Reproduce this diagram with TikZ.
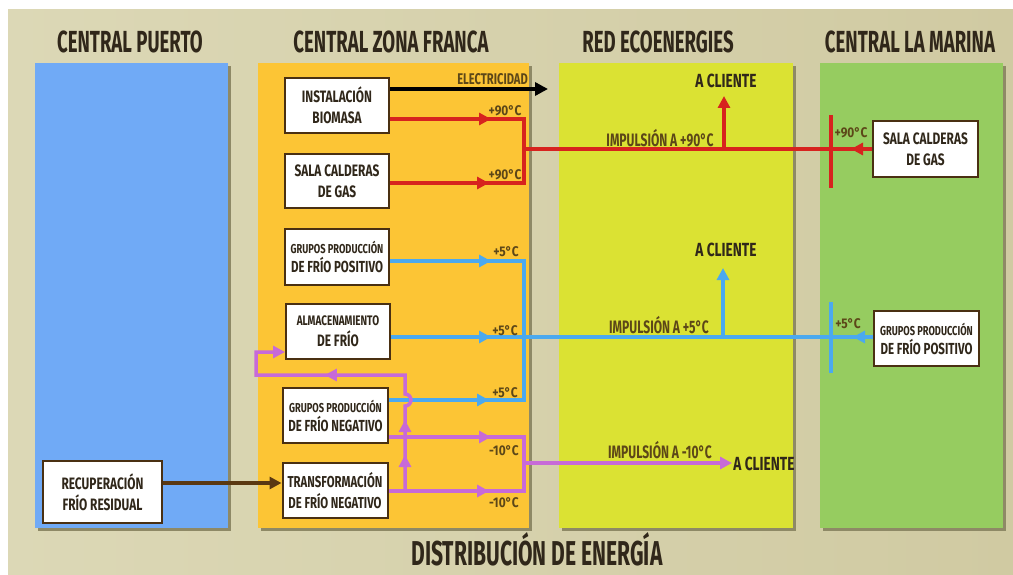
\documentclass[tikz,border=0pt]{standalone}
\usepackage{fontspec}
\usetikzlibrary{arrows.meta,decorations.markings}
\newfontfamily\tfont[FakeStretch=0.61]{Fira Sans}
\newfontfamily\ifont[FakeStretch=0.67]{Fira Sans}
\newfontfamily\bfont[FakeStretch=0.72]{Fira Sans}
\newfontfamily\lfont[FakeStretch=0.85]{Fira Sans}
\definecolor{bgl}{HTML}{DCD8B6}
\definecolor{bgr}{HTML}{D0CAA2}
\definecolor{pblue}{HTML}{70AAF6}
\definecolor{porange}{HTML}{FCC535}
\definecolor{pyellow}{HTML}{DBE233}
\definecolor{pgreen}{HTML}{96CC60}
\definecolor{cred}{HTML}{D7231E}
\definecolor{cblue}{HTML}{4BA9EF}
\definecolor{cpurple}{HTML}{C76AD8}
\definecolor{cbrown}{HTML}{5A3812}
\definecolor{tdark}{HTML}{30271A}
\definecolor{tlab}{HTML}{5C4718}
\definecolor{boxline}{HTML}{4A3012}
\definecolor{shad}{HTML}{8E8966}
\tikzset{
  box/.style={draw=boxline, line width=2pt, fill=white, inner sep=0pt, align=center, text=tdark,
    font=\bfont\bfseries\fontsize{16.5}{21}\selectfont},
  title/.style={font=\tfont\bfseries\fontsize{30.5}{32}\selectfont, text=tdark, inner sep=0pt, anchor=base},
  lab/.style={font=\lfont\bfseries\fontsize{14}{16}\selectfont, text=tlab, inner sep=0pt, anchor=base},
  imp/.style={font=\ifont\bfseries\fontsize{18}{20}\selectfont, text=tlab, inner sep=0pt, anchor=base},
  cli/.style={font=\bfont\bfseries\fontsize{19}{21}\selectfont, text=tdark, inner sep=0pt, anchor=base},
  tip/.tip={Triangle[length=12pt,width=12pt]},
  redl/.style={draw=cred, line width=4pt},
  bluel/.style={draw=cblue, line width=3.5pt},
  purl/.style={draw=cpurple, line width=3.5pt},
  fw/.style={postaction={decorate}, decoration={markings, mark=at position #1 with {\arrow{tip}}}},
  fwbw/.style 2 args={postaction={decorate}, decoration={markings,
     mark=at position #1 with {\arrow{tip}}, mark=at position #2 with {\arrowreversed{tip}}}},
}
\newcommand{\smtxt}[1]{{\fontsize{12.9}{15}\selectfont #1}}
\begin{document}
\begin{tikzpicture}[x=1pt,y=-1pt]
\useasboundingbox (0,0) rectangle (1013,575);
\fill[white] (0,0) rectangle (1013,575);
\shade[left color=bgl, right color=bgr] (8,10) rectangle (1013,575);
% panels
\fill[shad] (38,66) rectangle (231,531);
\fill[pblue] (35,63) rectangle (228,528);
\fill[shad] (261,66) rectangle (532,531);
\fill[porange] (258,63) rectangle (529,528);
\fill[shad] (562,66) rectangle (796,531);
\fill[pyellow] (559,63) rectangle (793,528);
\fill[shad] (823,66) rectangle (1006,531);
\fill[pgreen] (820,63) rectangle (1003,528);
% titles
\node[title] (t1) at (130,53) {CENTRAL PUERTO};
\node[title] (t2) at (391,53) {CENTRAL ZONA FRANCA};
\node[title] (t3) at (658,53) {RED ECOENERGIES};
\node[title] (t4) at (910,53) {CENTRAL LA MARINA};
\node[title, font=\tfont\bfseries\fontsize{34.5}{36}\selectfont] (t5) at (537,565) {DISTRIBUCIÓN DE ENERGÍA};
% boxes
\node[box, minimum width=104pt, minimum height=55pt] (bio) at (337,105.5) {INSTALACIÓN\\BIOMASA};
\node[box, minimum width=104pt, minimum height=54pt] (salaZ) at (337,181) {SALA CALDERAS\\DE GAS};
\node[box, minimum width=104pt, minimum height=56pt, font=\bfont\bfseries\fontsize{16}{19}\selectfont] (gpp) at (337,257) {\smtxt{GRUPOS PRODUCCIÓN}\\DE FRÍO POSITIVO};
\node[box, minimum width=104pt, minimum height=55pt] (alm) at (338,331.5) {{\fontsize{13.8}{16}\selectfont ALMACENAMIENTO}\\DE FRÍO};
\node[box, minimum width=105pt, minimum height=55pt, font=\bfont\bfseries\fontsize{16}{19}\selectfont] (gpn) at (335.5,415.5) {\smtxt{GRUPOS PRODUCCIÓN}\\DE FRÍO NEGATIVO};
\node[box, minimum width=105pt, minimum height=55pt, font=\bfont\bfseries\fontsize{15.8}{21}\selectfont] (tra) at (335,490.5) {TRANSFORMACIÓN\\DE FRÍO NEGATIVO};
\node[box, minimum width=119pt, minimum height=62pt] (rec) at (102.5,492) {RECUPERACIÓN\\FRÍO RESIDUAL};
\node[box, minimum width=105pt, minimum height=56pt] (salaM) at (925.5,149) {SALA CALDERAS\\DE GAS};
\node[box, minimum width=105pt, minimum height=55pt, font=\bfont\bfseries\fontsize{16}{19}\selectfont] (gppM) at (926.5,338.5) {\smtxt{GRUPOS PRODUCCIÓN}\\DE FRÍO POSITIVO};
% coordinates
\coordinate (elec) at (548,89);
\coordinate (r1) at (524,119); \coordinate (r2) at (524,183); \coordinate (rj) at (524,149);
\coordinate (ru) at (724,149); \coordinate (rc) at (724,96);
\coordinate (rta) at (831,115); \coordinate (rtb) at (831,188);
\coordinate (b1) at (524,261); \coordinate (b3) at (524,400);
\coordinate (bu) at (723,337); \coordinate (bc) at (723,268);
\coordinate (bta) at (831,302); \coordinate (btb) at (831,373);
\coordinate (p1) at (524,437); \coordinate (p2) at (524,491); \coordinate (pj) at (524,463); \coordinate (pc) at (732,463);
\coordinate (q0) at (405,491); \coordinate (q1) at (405,406); \coordinate (q2) at (405,375);
\coordinate (q3) at (256,375); \coordinate (q4) at (256,352);
% electricity
\draw[line width=4pt, -{Triangle[length=13pt,width=13pt]}] ([yshift=16.5pt]bio.east) -- (elec);
% red
\draw[redl, line join=miter, fwbw={101pt}{233pt}] ([yshift=-13.5pt]bio.east) -- (r1) -- (r2) -- ([yshift=-2pt]salaZ.east);
\draw[redl, fw=21pt] (salaM.west) -- (rj);
\draw[redl, -tip] (ru) -- (rc);
\draw[redl] (rta) -- (rtb);
% blue
\draw[bluel, line join=miter, fwbw={101pt}{308pt}] ([yshift=-4pt]gpp.east) -- (b1) -- (b3) -- ([yshift=15.5pt]gpn.east);
\draw[bluel, fwbw={100pt}{462pt}] ([yshift=-5.5pt]alm.east) -- ([yshift=1.5pt]gppM.west);
\draw[bluel, -tip] (bu) -- (bc);
\draw[bluel] (bta) -- (btb);
% purple
\draw[purl, line join=miter, fwbw={102pt}{224pt}] ([yshift=-21.5pt]gpn.east) -- (p1) -- (p2) -- ([yshift=-0.5pt]tra.east);
\draw[purl, -tip] (pj) -- (pc);
\draw[purl, line join=miter, -tip, postaction={decorate}, decoration={markings,
   mark=at position 36pt with {\arrow{tip}}, mark=at position 71pt with {\arrow{tip}},
   mark=at position 203pt with {\arrow{tip}}}]
  (q0) -- (q1) arc[start angle=-90, end angle=90, radius=6pt] -- (q2) -- (q3) -- (q4) -- ([yshift=-20.5pt]alm.west);
% brown
\draw[draw=cbrown, line width=4pt, -tip] ([yshift=9pt]rec.east) -- ([yshift=7.5pt]tra.west);
% labels
\node[lab, font=\bfont\bfseries\fontsize{15.5}{17}\selectfont, anchor=base east] (le) at (528,85) {ELECTRICIDAD};
\node[lab] (l1) at (505,116) {+90°C};
\node[lab] (l2) at (505,180) {+90°C};
\node[lab] (l3) at (851,138) {+90°C};
\node[lab] (l4) at (506,257) {+5°C};
\node[lab] (l5) at (505,335) {+5°C};
\node[lab] (l6) at (505,397) {+5°C};
\node[lab] (l7) at (848,328) {+5°C};
\node[lab] (l8) at (504,455) {-10°C};
\node[lab] (l9) at (504,507) {-10°C};
\node[imp] (i1) at (660,147) {IMPULSIÓN A +90°C};
\node[imp] (i2) at (659,333) {IMPULSIÓN A +5°C};
\node[imp] (i3) at (660,458) {IMPULSIÓN A -10°C};
\node[cli] (c1) at (726,88) {A CLIENTE};
\node[cli] (c2) at (726,257) {A CLIENTE};
\node[cli] (c3) at (764,470) {A CLIENTE};
\end{tikzpicture}
\end{document}
